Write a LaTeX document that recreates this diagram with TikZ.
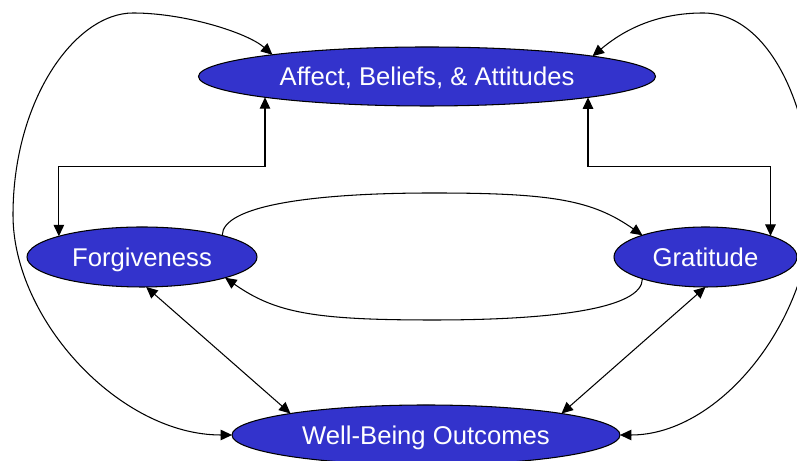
\documentclass[tikz,border=0pt]{standalone}
\usepackage{fontspec}
\setmainfont{Liberation Sans}
\usepackage{tikz}
\usetikzlibrary{arrows.meta,shapes.geometric,calc}
\usepackage{xcolor}
\definecolor{nodeblue}{RGB}{51,51,204}

\begin{document}
\begin{tikzpicture}[
    >={Triangle[length=6.5pt,width=6pt]},
    bubble/.style={ellipse, draw, fill=nodeblue, text=white, inner sep=0pt, outer sep=0pt,
                   text depth=0pt, line width=0.6pt, font=\fontsize{14.6}{17}\selectfont},
    link/.style={<->, line width=0.6pt},
    flow/.style={->, line width=0.6pt}]
\useasboundingbox (0,0) rectangle (15.94,9.22);

% Draw the four constructs
\node[bubble, minimum width=9.14cm, minimum height=1.18cm] (attitudes) at (8.54,7.69) {Affect, Beliefs, \& Attitudes};
\node[bubble, minimum width=4.6cm, minimum height=1.2cm] (forgive) at (2.84,4.08) {Forgiveness};
\node[bubble, minimum width=3.66cm, minimum height=1.2cm] (gratitude) at (14.11,4.08) {Gratitude};
\node[bubble, minimum width=7.76cm, minimum height=1.2cm] (wellbeing) at (8.52,0.52) {Well-Being Outcomes};

% Way points of the curved links
\coordinate (lpeak) at (2.66,8.96);
\coordinate (lside) at (0.26,4.92);
\coordinate (rpeak) at (14.06,8.96);
\coordinate (rside) at (16.24,5.12);
\coordinate (looptop) at (8.66,5.36);
\coordinate (loopbot) at (8.66,2.82);

% Elbow links to the top
\draw[link] ($(attitudes.center)+(-3.24,-0.416)$) -- ++(0,-1.39) -| (forgive.166);
\draw[link] ($(attitudes.center)+(3.22,-0.419)$) -- ++(0,-1.39) -| (gratitude.18);

% Loop between forgiveness and gratitude
\draw[flow] (forgive.15) .. controls +(0,0.6) and +(-2.4,0) .. (looptop)
    .. controls +(2.4,0) and +(-1.0,0.7) .. (gratitude.161);
\draw[flow] (gratitude.199) .. controls +(0,-0.6) and +(2.4,0) .. (loopbot)
    .. controls +(-2.4,0) and +(1.0,-0.7) .. (forgive.346);

% Links to well-being
\draw[link] (forgive.278) -- (wellbeing.171);
\draw[link] (gratitude.270) -- (wellbeing.9);

% Outer arcs
\draw[link] (attitudes.172.5) .. controls +(-0.5,0.44) and +(1.04,0) .. (lpeak)
    .. controls +(-1.16,0) and +(0,2.3) .. (lside)
    .. controls +(0,-2.1) and +(-2.24,0) .. (wellbeing.west);
\draw[link] (attitudes.7.5) .. controls +(0.5,0.42) and +(-1.06,0) .. (rpeak)
    .. controls +(1.34,0) and +(0,1.9) .. (rside)
    .. controls +(0,-2.3) and +(2.0,0) .. (wellbeing.east);

\end{tikzpicture}
\end{document}
